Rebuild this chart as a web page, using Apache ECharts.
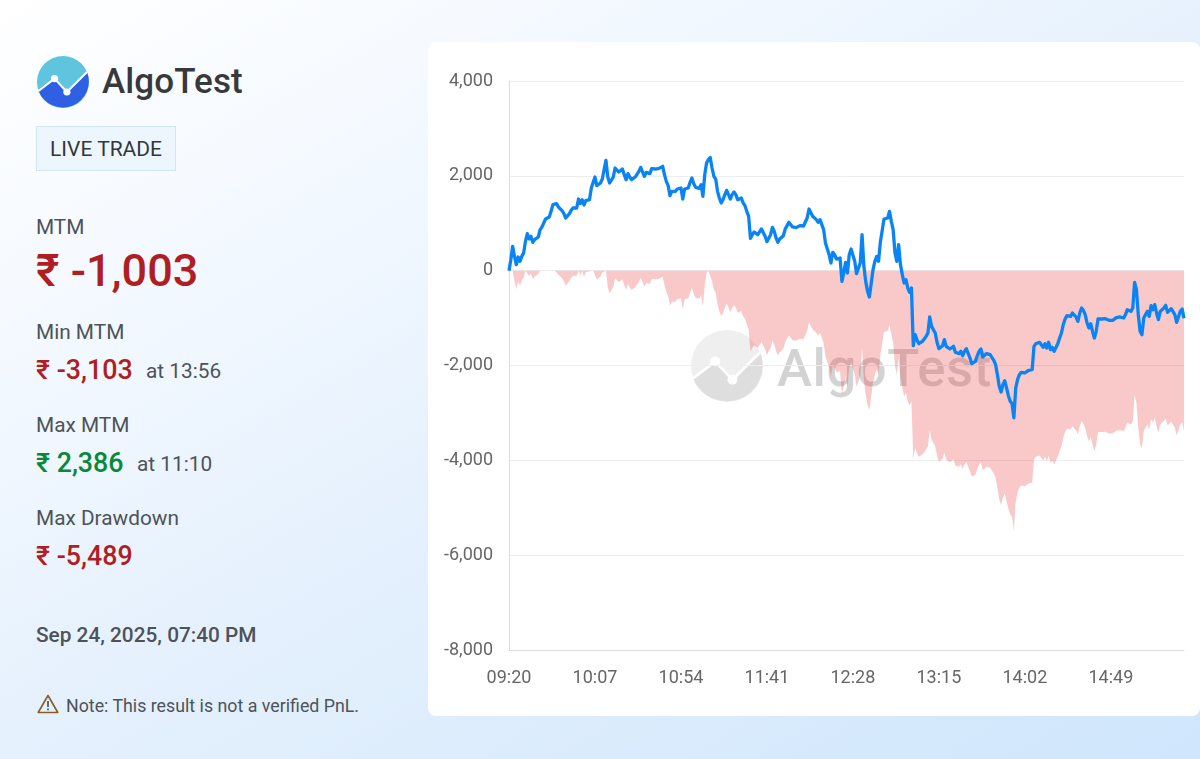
<!DOCTYPE html>
<html>
<head>
<meta charset="utf-8">
<script src="https://cdn.jsdelivr.net/npm/echarts@6/dist/echarts.min.js"></script>
<style>
html,body{margin:0;padding:0;width:1200px;height:759px;overflow:hidden;font-family:Roboto,sans-serif}
#page{position:absolute;left:0;top:0;width:1200px;height:759px;background:linear-gradient(150deg,#ffffff 0%,#f2f8ff 28%,#e6f1fd 50%,#cfe6fc 100%)}
#card{position:absolute;left:428px;top:42px;width:772px;height:674px;background:#fff;border-radius:8px}
#chart{position:absolute;left:428px;top:42px;width:772px;height:674px}
.t{position:absolute;white-space:nowrap;line-height:1;color:#4d5358}
.lab{font-size:20.8px}
.val{font-size:26.8px;font-weight:500}
.red{color:#b01e23}.green{color:#07883a}
#wmtext{position:absolute;left:777px;top:340px;font-size:52.6px;font-weight:500;line-height:1.1;color:#000;opacity:.17;letter-spacing:.55px}
</style>
</head>
<body>
<div id="page"></div>
<div id="card"></div>
<svg style="position:absolute;left:691px;top:330px" width="72" height="72" viewBox="-26 -26 52 52">
<circle r="26" fill="#efefef"/>
<path d="M-24.5 9L-8.5-3.4L3.9 10L24-10A26 26 0 1 1 -24.5 9Z" fill="#dedede"/>
<path d="M-24.5 9L-8.5-3.4L3.9 10L24-10" fill="none" stroke="#fff" stroke-width="2"/>
<circle cx="-8.5" cy="-3.4" r="3.6" fill="#fff"/><circle cx="3.9" cy="10" r="3.6" fill="#fff"/>
</svg>
<div id="wmtext">AlgoTest</div>
<div id="chart"></div>

<svg style="position:absolute;left:37px;top:56px" width="52" height="52" viewBox="-26 -26 52 52">
<circle r="26" fill="#5fc4de"/>
<path d="M-24.5 9L-8.5-3.4L3.9 10L24-10A26 26 0 1 1 -24.5 9Z" fill="#2f5fe3"/>
<path d="M-24.5 9L-8.5-3.4L3.9 10L24-10" fill="none" stroke="#fff" stroke-width="2"/>
<circle cx="-8.5" cy="-3.4" r="3.6" fill="#fff"/><circle cx="3.9" cy="10" r="3.6" fill="#fff"/>
</svg>
<div class="t" style="left:102px;top:63px;font-size:35px;font-weight:500;color:#38393b;line-height:38px;letter-spacing:.1px">AlgoTest</div>
<div style="position:absolute;left:36px;top:126px;width:138px;height:43px;background:#eef6fd;border:1px solid #d5e4f1"></div>
<div class="t" style="left:50px;top:139px;font-size:21px;color:#33373b">LIVE TRADE</div>

<div class="t lab" style="left:36px;top:217px">MTM</div>
<div class="t red" style="left:36px;top:248px;font-size:45px;font-weight:500">₹ -1,003</div>
<div class="t lab" style="left:36px;top:322px">Min MTM</div>
<div class="t val red" style="left:36px;top:357px">₹ -3,103</div>
<div class="t lab" style="left:146px;top:361px">at 13:56</div>
<div class="t lab" style="left:36px;top:415px">Max MTM</div>
<div class="t val green" style="left:36px;top:450px">₹ 2,386</div>
<div class="t lab" style="left:137px;top:454px">at 11:10</div>
<div class="t lab" style="left:36px;top:508px">Max Drawdown</div>
<div class="t val red" style="left:36px;top:543px">₹ -5,489</div>
<div class="t lab" style="left:36px;top:625px;font-weight:500">Sep 24, 2025, 07:40 PM</div>
<svg style="position:absolute;left:37px;top:694px" width="22" height="20" viewBox="0 0 22 20">
<path d="M11 1.5L20.8 18.5H1.2Z" fill="none" stroke="#8a5c2a" stroke-width="1.6" stroke-linejoin="round"/>
<path d="M11 7V13M11 14.6V16.2" stroke="#4d5358" stroke-width="1.7"/>
</svg>
<div class="t" style="left:66px;top:697px;font-size:17.8px">Note: This result is not a verified PnL.</div>

<script>
const times = [
"09:20","09:21","09:22","09:23","09:24","09:25","09:26","09:27","09:28","09:29",
"09:30","09:31","09:32","09:33","09:34","09:35","09:36","09:37","09:38","09:39",
"09:40","09:41","09:42","09:43","09:44","09:45","09:46","09:47","09:48","09:49",
"09:50","09:51","09:52","09:53","09:54","09:55","09:56","09:57","09:58","09:59",
"10:00","10:01","10:02","10:03","10:04","10:05","10:06","10:07","10:08","10:09",
"10:10","10:11","10:12","10:13","10:14","10:15","10:16","10:17","10:18","10:19",
"10:20","10:21","10:22","10:23","10:24","10:25","10:26","10:27","10:28","10:29",
"10:30","10:31","10:32","10:33","10:34","10:35","10:36","10:37","10:38","10:39",
"10:40","10:41","10:42","10:43","10:44","10:45","10:46","10:47","10:48","10:49",
"10:50","10:51","10:52","10:53","10:54","10:55","10:56","10:57","10:58","10:59",
"11:00","11:01","11:02","11:03","11:04","11:05","11:06","11:07","11:08","11:09",
"11:10","11:11","11:12","11:13","11:14","11:15","11:16","11:17","11:18","11:19",
"11:20","11:21","11:22","11:23","11:24","11:25","11:26","11:27","11:28","11:29",
"11:30","11:31","11:32","11:33","11:34","11:35","11:36","11:37","11:38","11:39",
"11:40","11:41","11:42","11:43","11:44","11:45","11:46","11:47","11:48","11:49",
"11:50","11:51","11:52","11:53","11:54","11:55","11:56","11:57","11:58","11:59",
"12:00","12:01","12:02","12:03","12:04","12:05","12:06","12:07","12:08","12:09",
"12:10","12:11","12:12","12:13","12:14","12:15","12:16","12:17","12:18","12:19",
"12:20","12:21","12:22","12:23","12:24","12:25","12:26","12:27","12:28","12:29",
"12:30","12:31","12:32","12:33","12:34","12:35","12:36","12:37","12:38","12:39",
"12:40","12:41","12:42","12:43","12:44","12:45","12:46","12:47","12:48","12:49",
"12:50","12:51","12:52","12:53","12:54","12:55","12:56","12:57","12:58","12:59",
"13:00","13:01","13:02","13:03","13:04","13:05","13:06","13:07","13:08","13:09",
"13:10","13:11","13:12","13:13","13:14","13:15","13:16","13:17","13:18","13:19",
"13:20","13:21","13:22","13:23","13:24","13:25","13:26","13:27","13:28","13:29",
"13:30","13:31","13:32","13:33","13:34","13:35","13:36","13:37","13:38","13:39",
"13:40","13:41","13:42","13:43","13:44","13:45","13:46","13:47","13:48","13:49",
"13:50","13:51","13:52","13:53","13:54","13:55","13:56","13:57","13:58","13:59",
"14:00","14:01","14:02","14:03","14:04","14:05","14:06","14:07","14:08","14:09",
"14:10","14:11","14:12","14:13","14:14","14:15","14:16","14:17","14:18","14:19",
"14:20","14:21","14:22","14:23","14:24","14:25","14:26","14:27","14:28","14:29",
"14:30","14:31","14:32","14:33","14:34","14:35","14:36","14:37","14:38","14:39",
"14:40","14:41","14:42","14:43","14:44","14:45","14:46","14:47","14:48","14:49",
"14:50","14:51","14:52","14:53","14:54","14:55","14:56","14:57","14:58","14:59",
"15:00","15:01","15:02","15:03","15:04","15:05","15:06","15:07","15:08","15:09",
"15:10","15:11","15:12","15:13","15:14","15:15","15:16","15:17","15:18","15:19",
"15:20","15:21","15:22","15:23","15:24","15:25","15:26","15:27","15:28","15:29"];

const mtm = [
0,232,513,300,127,288,197,302,373,619,
780,668,724,598,654,682,710,865,921,949,
1090,1104,1132,1251,1392,1427,1413,1343,1308,1265,
1202,1111,1111,1202,1272,1322,1322,1322,1511,1413,
1497,1385,1476,1469,1497,1743,1778,1975,1793,1814,
1849,1933,2130,2327,1975,1849,1884,1975,2165,2130,
2081,2116,2144,2025,1919,2046,1975,1919,1933,1975,
2004,2095,2179,2172,1989,2074,2109,2046,2151,2137,
2144,2144,2158,2179,2200,2025,1884,1793,1582,1673,
1659,1673,1722,1757,1743,1511,1722,1722,1743,1863,
1954,1835,1757,1722,1736,1814,1568,2025,2271,2341,
2386,2165,1989,1933,1673,1533,1427,1497,1603,1694,
1603,1511,1603,1659,1603,1497,1533,1533,1427,1371,
1251,1146,682,759,815,823,759,780,879,921,
724,612,640,759,914,830,689,598,668,689,
738,879,949,1019,1054,921,949,907,900,949,
949,942,921,1111,1300,1286,1146,1118,1076,1019,
1076,1111,865,583,598,337,162,387,337,246,
281,267,-225,-49,176,-49,337,457,450,197,
-63,-91,161,759,91,-225,-436,-555,-555,21,
197,302,197,598,598,1090,1097,1111,1251,1040,
865,373,197,548,127,-84,-260,-190,-366,-457,
-366,-1582,-1350,-1455,-1540,-1561,-1490,-1441,-1385,-1315,
-977,-1174,-1139,-1315,-1511,-1645,-1610,-1582,-1455,-1596,
-1631,-1652,-1666,-1596,-1722,-1722,-1750,-1701,-1793,-1701,
-1645,-1631,-1842,-1961,-1933,-1912,-1793,-1701,-1652,-1821,
-1793,-1750,-1736,-1772,-1807,-1891,-1982,-2193,-2439,-2559,
-2404,-2320,-2475,-2636,-2756,-2805,-3103,-2475,-2299,-2193,
-2144,-2144,-2158,-2130,-2102,-2074,-2088,-1596,-1540,-1526,
-1511,-1511,-1617,-1540,-1631,-1511,-1666,-1617,-1701,-1666,
-1540,-1420,-1315,-1139,-1019,-949,-928,-963,-893,-893,
-977,-1069,-893,-787,-837,-928,-1104,-1209,-1118,-1279,
-1420,-1279,-1019,-1019,-1019,-1005,-1012,-1005,-1047,-1069,
-1047,-1019,-991,-956,-977,-998,-998,-928,-823,-851,
-858,-787,-246,-401,-928,-1279,-1350,-998,-928,-858,
-963,-738,-823,-717,-893,-1033,-858,-844,-787,-731,
-879,-907,-801,-808,-928,-1090,-1069,-858,-808,-1003];

const drawdown = [
0,0,0,-213,-386,-225,-316,-211,-140,0,
0,-112,-56,-182,-126,-98,-70,0,0,0,
0,0,0,0,0,0,-14,-84,-119,-162,
-225,-316,-316,-225,-155,-105,-105,-105,0,-98,
-14,-126,-35,-42,-14,0,0,0,-182,-161,
-126,-42,0,0,-352,-478,-443,-352,-162,-197,
-246,-211,-183,-302,-408,-281,-352,-408,-394,-352,
-323,-232,-148,-155,-338,-253,-218,-281,-176,-190,
-183,-183,-169,-148,-127,-302,-443,-534,-745,-654,
-668,-654,-605,-570,-584,-816,-605,-605,-584,-464,
-373,-492,-570,-605,-591,-513,-759,-302,-56,0,
0,-221,-397,-453,-713,-853,-959,-889,-783,-692,
-783,-875,-783,-727,-783,-889,-853,-853,-959,-1015,
-1135,-1240,-1704,-1627,-1571,-1563,-1627,-1606,-1507,-1465,
-1662,-1774,-1746,-1627,-1472,-1556,-1697,-1788,-1718,-1697,
-1648,-1507,-1437,-1367,-1332,-1465,-1437,-1479,-1486,-1437,
-1437,-1444,-1465,-1275,-1086,-1100,-1240,-1268,-1310,-1367,
-1310,-1275,-1521,-1803,-1788,-2049,-2224,-1999,-2049,-2140,
-2105,-2119,-2611,-2435,-2210,-2435,-2049,-1929,-1936,-2189,
-2449,-2477,-2225,-1627,-2295,-2611,-2822,-2941,-2941,-2365,
-2189,-2084,-2189,-1788,-1788,-1296,-1289,-1275,-1135,-1346,
-1521,-2013,-2189,-1838,-2259,-2470,-2646,-2576,-2752,-2843,
-2752,-3968,-3736,-3841,-3926,-3947,-3876,-3827,-3771,-3701,
-3363,-3560,-3525,-3701,-3897,-4031,-3996,-3968,-3841,-3982,
-4017,-4038,-4052,-3982,-4108,-4108,-4136,-4087,-4179,-4087,
-4031,-4017,-4228,-4347,-4319,-4298,-4179,-4087,-4038,-4207,
-4179,-4136,-4122,-4158,-4193,-4277,-4368,-4579,-4825,-4945,
-4790,-4706,-4861,-5022,-5142,-5191,-5489,-4861,-4685,-4579,
-4530,-4530,-4544,-4516,-4488,-4460,-4474,-3982,-3926,-3912,
-3897,-3897,-4003,-3926,-4017,-3897,-4052,-4003,-4087,-4052,
-3926,-3806,-3701,-3525,-3405,-3335,-3314,-3349,-3279,-3279,
-3363,-3455,-3279,-3173,-3223,-3314,-3490,-3595,-3504,-3665,
-3806,-3665,-3405,-3405,-3405,-3391,-3398,-3391,-3433,-3455,
-3433,-3405,-3377,-3342,-3363,-3384,-3384,-3314,-3209,-3237,
-3244,-3173,-2632,-2787,-3314,-3665,-3736,-3384,-3314,-3244,
-3349,-3124,-3209,-3103,-3279,-3419,-3244,-3230,-3173,-3117,
-3265,-3293,-3187,-3194,-3314,-3476,-3455,-3244,-3194,-3389];

const chart = echarts.init(document.getElementById('chart'), null, {renderer:'canvas'});
chart.setOption({
  animation:false,
  backgroundColor:'transparent',
  grid:{left:81,right:16,top:39,bottom:66},
  xAxis:{
    type:'category',data:times,boundaryGap:false,
    axisLine:{onZero:false,lineStyle:{color:'#dcdcdc',width:1}},
    axisTick:{show:false},
    axisLabel:{interval:46,color:'#666',fontSize:18,fontFamily:'Roboto',margin:19},
    splitLine:{show:false}
  },
  yAxis:{
    type:'value',min:-8000,max:4000,interval:2000,
    axisLine:{show:true,lineStyle:{color:'#dcdcdc',width:1}},
    axisTick:{show:false},
    axisLabel:{color:'#666',fontSize:18,fontFamily:'Roboto',margin:16,padding:[2,0,0,0],
      formatter:v=>v.toLocaleString('en-US')},
    splitLine:{lineStyle:{color:'#eeeeee',width:1}}
  },
  series:[
    {name:'Drawdown',type:'line',data:drawdown,showSymbol:false,symbol:'none',
     lineStyle:{width:0},areaStyle:{color:'rgba(229,57,53,0.27)',opacity:1,origin:0},z:2},
    {name:'MTM',type:'line',data:mtm,showSymbol:false,symbol:'none',
     lineStyle:{color:'#0a84f5',width:3.3,join:'round'},z:3}
  ]
});
</script>
</body>
</html>
